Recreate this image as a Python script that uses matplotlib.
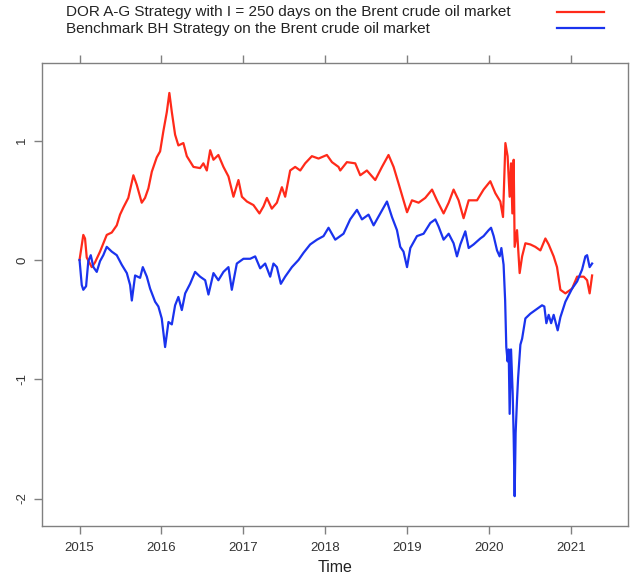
import matplotlib
matplotlib.use("Agg")
import matplotlib.pyplot as plt
from matplotlib.lines import Line2D

plt.rcParams['font.family'] = ['Liberation Sans', 'DejaVu Sans']

# ---- data ----
red_t = [2015.000, 2015.046, 2015.067, 2015.088, 2015.149, 2015.189, 2015.250, 2015.332, 2015.393, 2015.454,
         2015.494, 2015.535, 2015.595, 2015.657, 2015.698, 2015.759, 2015.799, 2015.840, 2015.882, 2015.942,
         2015.983, 2016.023, 2016.065, 2016.096, 2016.126, 2016.166, 2016.206, 2016.267, 2016.309, 2016.390,
         2016.471, 2016.511, 2016.553, 2016.594, 2016.634, 2016.694, 2016.756, 2016.817, 2016.878, 2016.939,
         2016.981, 2017.042, 2017.122, 2017.195, 2017.245, 2017.286, 2017.346, 2017.408, 2017.469, 2017.509,
         2017.570, 2017.631, 2017.693, 2017.753, 2017.835, 2017.916, 2018.018, 2018.080, 2018.160, 2018.181,
         2018.262, 2018.364, 2018.425, 2018.506, 2018.608, 2018.690, 2018.770, 2018.832, 2018.893, 2018.953,
         2018.996, 2019.056, 2019.137, 2019.218, 2019.301, 2019.361, 2019.442, 2019.504, 2019.564, 2019.625,
         2019.686, 2019.748, 2019.850, 2019.930, 2020.012, 2020.073, 2020.134, 2020.167, 2020.196, 2020.223,
         2020.248, 2020.265, 2020.281, 2020.297, 2020.309, 2020.338, 2020.370, 2020.400, 2020.440, 2020.501,
         2020.561, 2020.623, 2020.684, 2020.724, 2020.785, 2020.826, 2020.867, 2020.928, 2021.010, 2021.071,
         2021.152, 2021.193, 2021.224, 2021.254]
red_v = [0.00, 0.21, 0.18, 0.02, -0.06, -0.02, 0.07, 0.21, 0.23, 0.29,
         0.38, 0.44, 0.52, 0.71, 0.63, 0.48, 0.52, 0.60, 0.74, 0.86,
         0.91, 1.08, 1.24, 1.40, 1.24, 1.05, 0.96, 0.98, 0.87, 0.78,
         0.77, 0.81, 0.75, 0.92, 0.84, 0.88, 0.78, 0.70, 0.53, 0.67,
         0.53, 0.49, 0.46, 0.39, 0.45, 0.52, 0.43, 0.48, 0.61, 0.53,
         0.75, 0.78, 0.75, 0.81, 0.87, 0.85, 0.88, 0.82, 0.78, 0.75,
         0.82, 0.81, 0.71, 0.75, 0.67, 0.78, 0.88, 0.78, 0.64, 0.50,
         0.40, 0.50, 0.48, 0.52, 0.59, 0.50, 0.39, 0.48, 0.59, 0.50,
         0.35, 0.50, 0.50, 0.59, 0.66, 0.56, 0.49, 0.36, 0.98, 0.87,
         0.53, 0.81, 0.39, 0.84, 0.11, 0.25, -0.11, 0.03, 0.14, 0.13,
         0.11, 0.08, 0.18, 0.13, 0.03, -0.06, -0.25, -0.28, -0.24, -0.14,
         -0.14, -0.17, -0.28, -0.13]

blue_t = [2015.000, 2015.027, 2015.046, 2015.080, 2015.107, 2015.137, 2015.169, 2015.210, 2015.250, 2015.290,
          2015.332, 2015.393, 2015.454, 2015.515, 2015.577, 2015.617, 2015.638, 2015.678, 2015.739, 2015.772,
          2015.821, 2015.861, 2015.922, 2015.962, 2016.003, 2016.044, 2016.085, 2016.126, 2016.166, 2016.206,
          2016.248, 2016.289, 2016.349, 2016.410, 2016.471, 2016.533, 2016.573, 2016.634, 2016.694, 2016.756,
          2016.817, 2016.858, 2016.919, 2017.000, 2017.082, 2017.143, 2017.204, 2017.265, 2017.326, 2017.366,
          2017.408, 2017.456, 2017.509, 2017.591, 2017.672, 2017.733, 2017.814, 2017.897, 2017.977, 2018.038,
          2018.120, 2018.221, 2018.302, 2018.385, 2018.446, 2018.526, 2018.588, 2018.669, 2018.751, 2018.812,
          2018.873, 2018.913, 2018.953, 2018.996, 2019.036, 2019.117, 2019.198, 2019.280, 2019.341, 2019.381,
          2019.442, 2019.504, 2019.564, 2019.605, 2019.646, 2019.707, 2019.748, 2019.808, 2019.890, 2019.930,
          2019.992, 2020.021, 2020.053, 2020.094, 2020.126, 2020.147, 2020.174, 2020.193, 2020.207, 2020.223,
          2020.236, 2020.248, 2020.265, 2020.285, 2020.297, 2020.309, 2020.321, 2020.338, 2020.351, 2020.379,
          2020.400, 2020.440, 2020.501, 2020.582, 2020.643, 2020.671, 2020.696, 2020.724, 2020.754, 2020.785,
          2020.834, 2020.867, 2020.928, 2021.010, 2021.071, 2021.132, 2021.172, 2021.193, 2021.224, 2021.254]
blue_v = [0.00, -0.21, -0.25, -0.22, -0.01, 0.04, -0.06, -0.10, -0.01, 0.04,
          0.11, 0.07, 0.04, -0.04, -0.11, -0.21, -0.34, -0.13, -0.15, -0.06,
          -0.14, -0.24, -0.35, -0.39, -0.49, -0.73, -0.52, -0.54, -0.38, -0.31,
          -0.42, -0.28, -0.20, -0.10, -0.14, -0.17, -0.29, -0.11, -0.17, -0.10,
          -0.06, -0.25, -0.03, 0.01, 0.01, 0.03, -0.07, -0.03, -0.14, -0.03,
          -0.06, -0.20, -0.14, -0.06, 0.00, 0.06, 0.13, 0.17, 0.20, 0.27,
          0.17, 0.22, 0.34, 0.42, 0.34, 0.38, 0.29, 0.39, 0.49, 0.36,
          0.25, 0.11, 0.07, -0.06, 0.10, 0.20, 0.22, 0.31, 0.34, 0.28,
          0.17, 0.22, 0.14, 0.03, 0.13, 0.24, 0.10, 0.13, 0.18, 0.20,
          0.25, 0.27, 0.20, 0.08, 0.03, 0.10, -0.04, -0.34, -0.73, -0.85,
          -0.75, -1.29, -0.75, -1.12, -1.48, -1.98, -1.45, -1.17, -0.99, -0.71,
          -0.66, -0.49, -0.45, -0.41, -0.38, -0.39, -0.53, -0.46, -0.53, -0.46,
          -0.59, -0.48, -0.35, -0.24, -0.18, -0.08, 0.03, 0.04, -0.06, -0.03]

x_ticks = [2015, 2016, 2017, 2018, 2019, 2020, 2021]
y_ticks = [-2, -1, 0, 1]
label_red = "DOR A-G Strategy with I = 250 days on the Brent crude oil market"
label_blue = "Benchmark BH Strategy on the Brent crude oil market"
red_col = '#ff2a1a'
blue_col = '#1a33ee'

W, H = 633, 577
fig = plt.figure(figsize=(W / 100, H / 100), dpi=100)
ax = fig.add_axes([42 / W, 1 - 526 / H, 586 / W, 463 / H])

ax.plot(red_t, red_v, color=red_col, lw=1.6)
ax.plot(blue_t, blue_v, color=blue_col, lw=1.6)

ax.set_xlim(2014.542, 2021.692)
ax.set_ylim(-2.230, 1.651)

frame_col = '#808080'
for s in ax.spines.values():
    s.set_color(frame_col)
    s.set_linewidth(1.0)

ax.set_xticks(x_ticks)
ax.set_xticklabels([str(t) for t in x_ticks])
ax.set_yticks(y_ticks)
ax.set_yticklabels([str(t) for t in y_ticks], rotation=90, va='center')
ax.tick_params(axis='both', direction='out', length=6, width=1.0, color=frame_col,
               labelsize=9.5, labelcolor='#333333')
ax.tick_params(axis='x', top=True, labeltop=False, pad=5.5)
ax.tick_params(axis='y', pad=4)
ax.set_xlabel("Time", fontsize=11.5, color='#222222', labelpad=4)

# legend (R style: text on the left, line keys on the right, no box)
for lab, col, base_y, key_y in [(label_red, red_col, 16.0, 11.5),
                                (label_blue, blue_col, 33.5, 27.5)]:
    fig.text(66.5 / W, 1 - base_y / H, lab, fontsize=11, color='#222222',
             ha='left', va='baseline')
    fig.add_artist(Line2D([557 / W, 604 / W], [1 - key_y / H, 1 - key_y / H],
                          transform=fig.transFigure, color=col, lw=1.6))

fig.savefig("out.png", dpi=100)
